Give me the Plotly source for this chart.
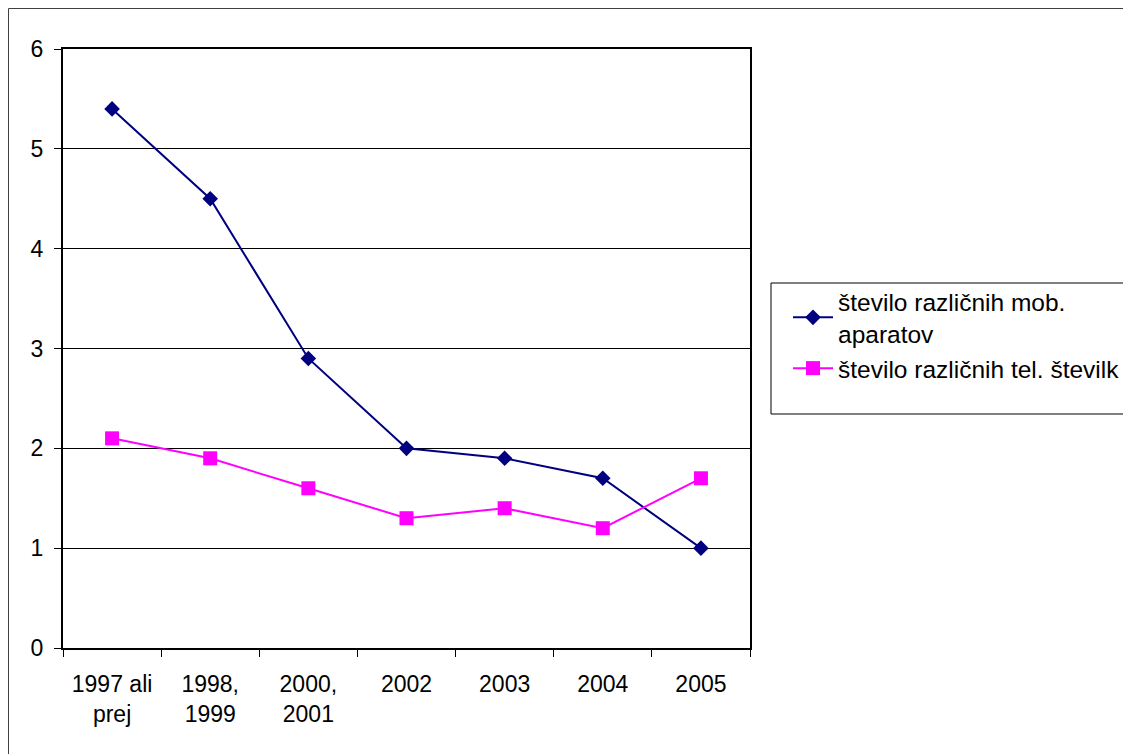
import plotly.graph_objects as go

categories = ["1997 ali<br>prej", "1998,<br>1999", "2000,<br>2001", "2002", "2003", "2004", "2005"]
mob_aparati = [5.4, 4.5, 2.9, 2.0, 1.9, 1.7, 1.0]
tel_stevilke = [2.1, 1.9, 1.6, 1.3, 1.4, 1.2, 1.7]
series_names = ["število različnih mob.<br>aparatov", "število različnih tel. številk"]

OFF = 8  # default page body margin
W, H = 1131 - OFF, 754 - OFF
# plot area in page pixels
L, R, T, B = 63, 750, 49, 648
pw, ph = R - L, B - T

def px(x):
    return (x - L) / pw

def py(y):
    return (B - y) / ph

FONT = "Liberation Sans, Arial, sans-serif"

fig = go.Figure()
fig.add_trace(go.Scatter(
    x=categories, y=mob_aparati, name=series_names[0], mode="lines+markers",
    line=dict(color="#000080", width=2),
    marker=dict(symbol="diamond", size=12, color="#000080"),
))
fig.add_trace(go.Scatter(
    x=categories, y=tel_stevilke, name=series_names[1], mode="lines+markers",
    line=dict(color="#FF00FF", width=2),
    marker=dict(symbol="square", size=14, color="#FF00FF"),
))

fig.update_layout(
    width=W, height=H,
    margin=dict(l=L - OFF, r=(W + OFF) - R, t=T - OFF, b=(H + OFF) - B, pad=0,
                autoexpand=False),
    paper_bgcolor="white", plot_bgcolor="white",
    font=dict(family=FONT, size=23, color="black"),
    showlegend=True,
    legend=dict(
        x=px(788), y=py(279), xanchor="left", yanchor="top",
        bgcolor="rgba(0,0,0,0)", borderwidth=0,
        font=dict(family=FONT, size=24.5, color="black"),
        itemwidth=40, tracegroupgap=8,
    ),
    shapes=[
        dict(type="rect", xref="paper", yref="paper",
             x0=px(771), x1=px(1128.5), y0=py(414), y1=py(283),
             line=dict(color="black", width=1), fillcolor="rgba(0,0,0,0)"),
        dict(type="rect", xref="paper", yref="paper",
             x0=px(OFF + 0.5), x1=px(1300), y0=py(900), y1=py(OFF + 0.5),
             line=dict(color="#404040", width=1), fillcolor="rgba(0,0,0,0)"),
    ],
)

fig.update_xaxes(
    type="category", range=[-0.5, 6.5],
    showline=True, linecolor="black", linewidth=2, mirror=True,
    ticks="outside", tickson="boundaries", ticklen=7, tickcolor="black", tickwidth=1,
    ticklabelstandoff=14,
    showgrid=False, tickfont=dict(family=FONT, size=23, color="black"),
)
fig.update_yaxes(
    range=[0, 6], dtick=1, tick0=0,
    showline=True, linecolor="black", linewidth=2, mirror=True,
    ticks="outside", ticklen=7, tickcolor="black", tickwidth=1,
    ticklabelstandoff=6,
    showgrid=True, gridcolor="black", gridwidth=1, zeroline=False,
    tickfont=dict(family=FONT, size=23, color="black"),
)

fig.write_html("out.html")
